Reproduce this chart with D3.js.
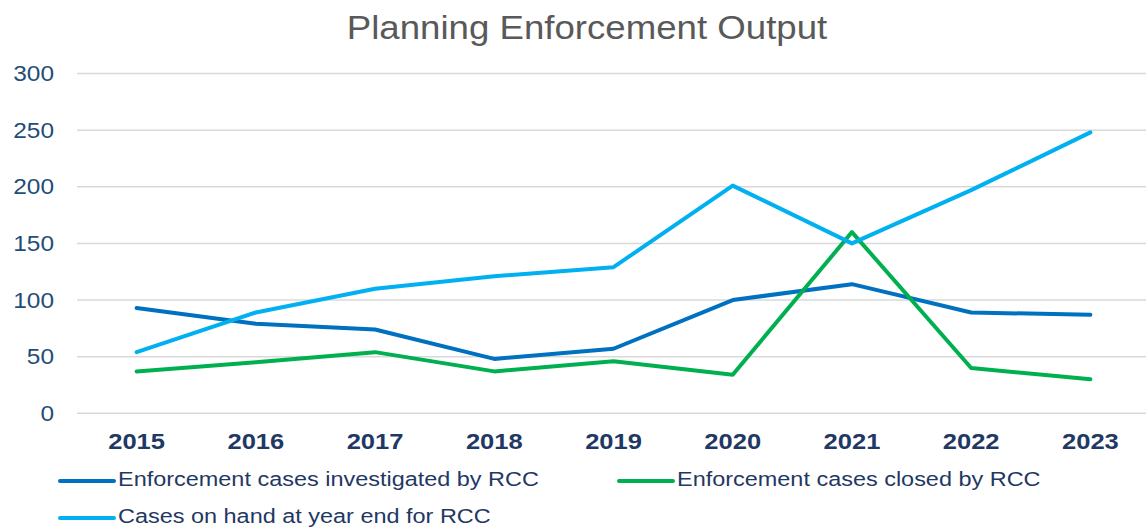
<!DOCTYPE html>
<html>
<head>
<meta charset="utf-8">
<script src="https://cdn.jsdelivr.net/npm/d3@7"></script>
<style>
  body { margin: 0; background: #fff; }
  text { font-family: "Liberation Sans", Arial, sans-serif; }
</style>
</head>
<body>
<div class="chart"></div>
<script>
var years = ["2015", "2016", "2017", "2018", "2019", "2020", "2021", "2022", "2023"];
var investigatedCases = [93, 79, 74, 48, 57, 100, 114, 89, 87];
var closedCases = [37, 45, 54, 37, 46, 34, 160, 40, 30];
var onHandCases = [54, 89, 110, 121, 129, 201, 150, 197, 248];
var yTicks = [0, 50, 100, 150, 200, 250, 300];

var series = [
  { name: "Enforcement cases investigated by RCC", values: investigatedCases, color: "#0070C0" },
  { name: "Enforcement cases closed by RCC", values: closedCases, color: "#00B050" },
  { name: "Cases on hand at year end for RCC", values: onHandCases, color: "#00B0F0" }
];

var svgWidth = 1146;
var svgHeight = 527;
var stretch = "scale(1.11, 1)"; // the reference text is a bit wide

var svg = d3.select(".chart")
    .append("svg")
    .attr("width", svgWidth)
    .attr("height", svgHeight);

var xScale = d3.scaleBand()
    .domain(years)
    .range([77, 1150]);

var yScale = d3.scaleLinear()
    .domain([0, 300])
    .range([413.3, 73.5]);

// Title
svg.append("text")
  .attr("transform", `translate(587, 39) ${stretch}`)
  .attr("text-anchor", "middle")
  .attr("font-size", 33)
  .attr("fill", "#595959")
  .text("Planning Enforcement Output");

// Gridlines
svg.append("g")
  .selectAll("line")
  .data(yTicks)
  .enter()
  .append("line")
  .attr("x1", 77)
  .attr("x2", svgWidth)
  .attr("y1", d => yScale(d))
  .attr("y2", d => yScale(d))
  .attr("stroke", "#d9d9d9")
  .attr("stroke-width", 1.5);

// Y axis labels
var leftAxis = d3.axisLeft(yScale).tickValues(yTicks).tickSize(0).tickPadding(0);
var yAxis = svg.append("g")
  .attr("transform", "translate(54, 0)")
  .call(leftAxis);
yAxis.select(".domain").remove();
yAxis.selectAll("text")
  .attr("transform", stretch)
  .attr("font-size", 22)
  .attr("font-family", "Liberation Sans, Arial, sans-serif")
  .attr("fill", "#1F4E79");

// X axis labels
var bottomAxis = d3.axisBottom(xScale).tickSize(0).tickPadding(0);
var xAxis = svg.append("g")
  .attr("transform", "translate(0, 433.5)")
  .call(bottomAxis);
xAxis.select(".domain").remove();
xAxis.selectAll("text")
  .attr("transform", "scale(1.16, 1)")
  .attr("font-size", 22)
  .attr("font-weight", "bold")
  .attr("font-family", "Liberation Sans, Arial, sans-serif")
  .attr("fill", "#1F3864");

// Lines
var line = d3.line()
  .x((d, i) => xScale(years[i]) + xScale.bandwidth() / 2)
  .y(d => yScale(d));

svg.append("g")
  .selectAll("path")
  .data(series)
  .enter()
  .append("path")
  .attr("d", d => line(d.values))
  .attr("fill", "none")
  .attr("stroke", d => d.color)
  .attr("stroke-width", 4)
  .attr("stroke-linejoin", "round")
  .attr("stroke-linecap", "round");

// Legend
var legendPos = [[60, 481], [619, 481], [60, 518]];
var legend = svg.append("g")
  .selectAll("g")
  .data(series)
  .enter()
  .append("g")
  .attr("transform", (d, i) => `translate(${legendPos[i][0]}, ${legendPos[i][1]})`);

legend.append("line")
  .attr("x1", 0)
  .attr("x2", 54)
  .attr("stroke", d => d.color)
  .attr("stroke-width", 4)
  .attr("stroke-linecap", "round");

legend.append("text")
  .attr("transform", `translate(58, 5) scale(1.117, 1)`)
  .attr("font-size", 21)
  .attr("fill", "#1F3864")
  .text(d => d.name);
</script>
</body>
</html>
